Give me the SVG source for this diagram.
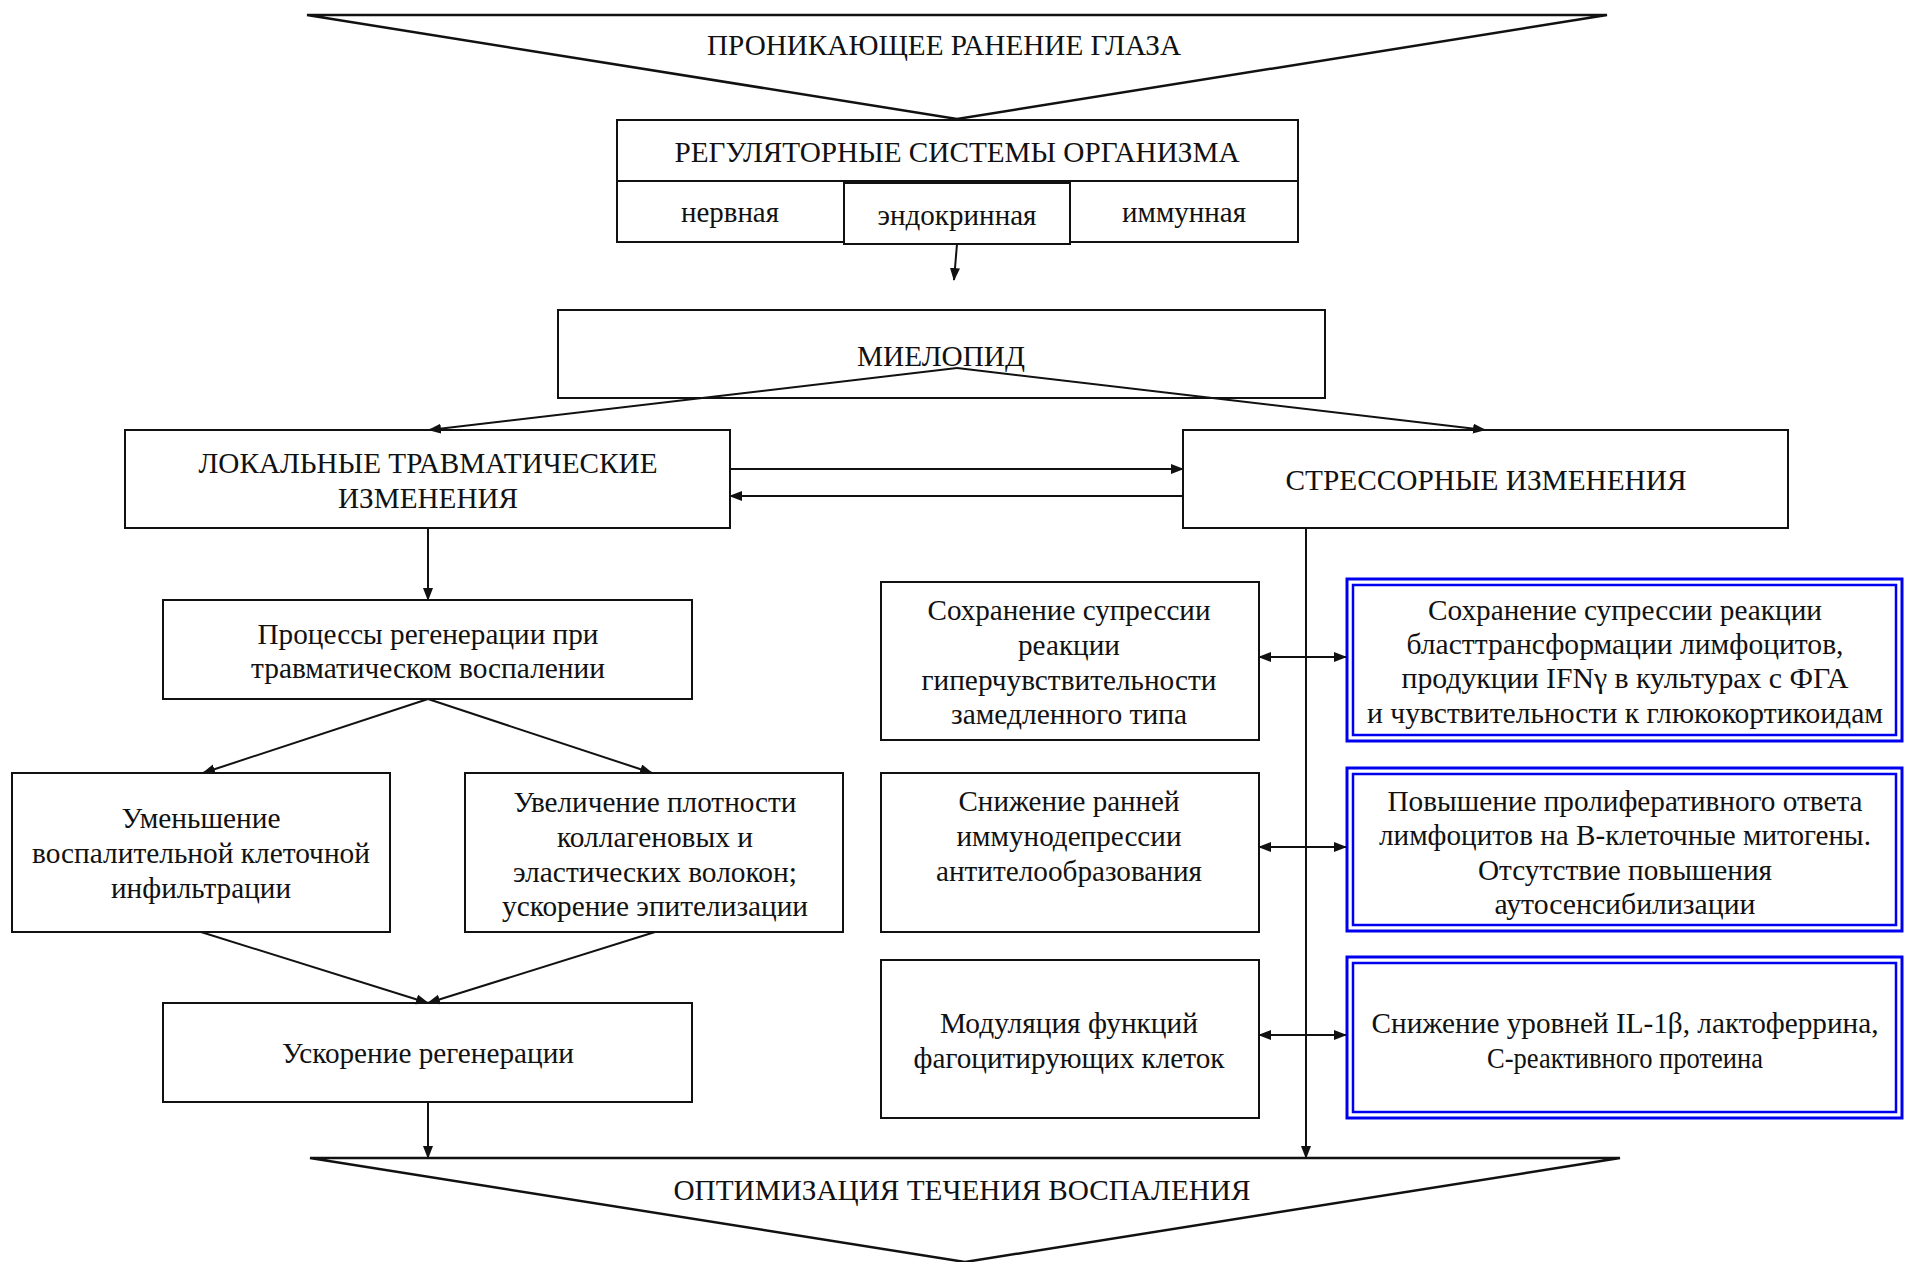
<svg xmlns="http://www.w3.org/2000/svg" width="1905" height="1262" viewBox="0 0 1905 1262">
<style>
.bx{fill:#fff;stroke:#111;stroke-width:2}
.bl{fill:none;stroke:#0000ee}
.tri{fill:#fff;stroke:#111;stroke-width:2.5}
.t{font-family:"Liberation Serif","Times New Roman",serif;font-size:30px;fill:#111;text-anchor:middle}
.c{fill:none;stroke:#111;stroke-width:2}
</style>
<defs>
<marker id="ah" markerUnits="userSpaceOnUse" markerWidth="14" markerHeight="12" refX="12" refY="5" orient="auto">
<path d="M0,0 L13,5 L0,10 z" fill="#111"/>
</marker>
<marker id="as" markerUnits="userSpaceOnUse" markerWidth="14" markerHeight="12" refX="1" refY="5" orient="auto">
<path d="M13,0 L0,5 L13,10 z" fill="#111"/>
</marker>
</defs>

<g id="top">
<polygon class="tri" points="307,15 1607,15 957,119"/>
<text class="t" x="944" y="55" textLength="474" lengthAdjust="spacingAndGlyphs">ПРОНИКАЮЩЕЕ РАНЕНИЕ ГЛАЗА</text>
</g>

<g id="reg">
<rect class="bx" x="617" y="120" width="681" height="61"/>
<text class="t" x="957" y="162" textLength="565" lengthAdjust="spacingAndGlyphs">РЕГУЛЯТОРНЫЕ СИСТЕМЫ ОРГАНИЗМА</text>
</g>
<g id="nerv">
<rect class="bx" x="617" y="181" width="227" height="61"/>
<text class="t" x="730" y="222" textLength="98" lengthAdjust="spacingAndGlyphs">нервная</text>
</g>
<g id="endo">
<rect class="bx" x="844" y="183" width="226" height="61"/>
<text class="t" x="957" y="225" textLength="159" lengthAdjust="spacingAndGlyphs">эндокринная</text>
</g>
<g id="imm">
<rect class="bx" x="1070" y="181" width="228" height="61"/>
<text class="t" x="1184" y="222" textLength="124" lengthAdjust="spacingAndGlyphs">иммунная</text>
</g>

<g id="mielopid">
<rect class="bx" x="558" y="310" width="767" height="88"/>
<text class="t" x="941" y="366" textLength="168" lengthAdjust="spacingAndGlyphs">МИЕЛОПИД</text>
</g>

<g id="local">
<rect class="bx" x="125" y="430" width="605" height="98"/>
<text class="t" x="428" y="473" textLength="459" lengthAdjust="spacingAndGlyphs">ЛОКАЛЬНЫЕ ТРАВМАТИЧЕСКИЕ</text>
<text class="t" x="428" y="508" textLength="180" lengthAdjust="spacingAndGlyphs">ИЗМЕНЕНИЯ</text>
</g>

<g id="stress">
<rect class="bx" x="1183" y="430" width="605" height="98"/>
<text class="t" x="1486" y="490" textLength="401" lengthAdjust="spacingAndGlyphs">СТРЕССОРНЫЕ ИЗМЕНЕНИЯ</text>
</g>

<g id="proc">
<rect class="bx" x="163" y="600" width="529" height="99"/>
<text class="t" x="428" y="644" textLength="341" lengthAdjust="spacingAndGlyphs">Процессы регенерации при</text>
<text class="t" x="428" y="678" textLength="354" lengthAdjust="spacingAndGlyphs">травматическом воспалении</text>
</g>

<g id="umen">
<rect class="bx" x="12" y="773" width="378" height="159"/>
<text class="t" x="201" y="828" textLength="159" lengthAdjust="spacingAndGlyphs">Уменьшение</text>
<text class="t" x="201" y="863" textLength="338" lengthAdjust="spacingAndGlyphs">воспалительной клеточной</text>
<text class="t" x="201" y="898" textLength="180" lengthAdjust="spacingAndGlyphs">инфильтрации</text>
</g>

<g id="uvel">
<rect class="bx" x="465" y="773" width="378" height="159"/>
<text class="t" x="655" y="812" textLength="283" lengthAdjust="spacingAndGlyphs">Увеличение плотности</text>
<text class="t" x="655" y="847" textLength="196" lengthAdjust="spacingAndGlyphs">коллагеновых и</text>
<text class="t" x="655" y="882" textLength="284" lengthAdjust="spacingAndGlyphs">эластических волокон;</text>
<text class="t" x="655" y="916" textLength="306" lengthAdjust="spacingAndGlyphs">ускорение эпителизации</text>
</g>

<g id="uskor">
<rect class="bx" x="163" y="1003" width="529" height="99"/>
<text class="t" x="428" y="1063" textLength="292" lengthAdjust="spacingAndGlyphs">Ускорение регенерации</text>
</g>

<g id="bottom">
<polygon class="tri" points="310,1158 1620,1158 965,1262"/>
<text class="t" x="962" y="1200" textLength="577" lengthAdjust="spacingAndGlyphs">ОПТИМИЗАЦИЯ ТЕЧЕНИЯ ВОСПАЛЕНИЯ</text>
</g>

<g id="l1">
<rect class="bx" x="881" y="582" width="378" height="158"/>
<text class="t" x="1069" y="620" textLength="283" lengthAdjust="spacingAndGlyphs">Сохранение супрессии</text>
<text class="t" x="1069" y="655" textLength="102" lengthAdjust="spacingAndGlyphs">реакции</text>
<text class="t" x="1069" y="690" textLength="295" lengthAdjust="spacingAndGlyphs">гиперчувствительности</text>
<text class="t" x="1069" y="724" textLength="236" lengthAdjust="spacingAndGlyphs">замедленного типа</text>
</g>
<g id="l2">
<rect class="bx" x="881" y="773" width="378" height="159"/>
<text class="t" x="1069" y="811" textLength="221" lengthAdjust="spacingAndGlyphs">Снижение ранней</text>
<text class="t" x="1069" y="846" textLength="225" lengthAdjust="spacingAndGlyphs">иммунодепрессии</text>
<text class="t" x="1069" y="881" textLength="266" lengthAdjust="spacingAndGlyphs">антителообразования</text>
</g>
<g id="l3">
<rect class="bx" x="881" y="960" width="378" height="158"/>
<text class="t" x="1069" y="1033" textLength="258" lengthAdjust="spacingAndGlyphs">Модуляция функций</text>
<text class="t" x="1069" y="1068" textLength="311" lengthAdjust="spacingAndGlyphs">фагоцитирующих клеток</text>
</g>

<g id="r1">
<rect class="bl" x="1347" y="579" width="555" height="162" stroke-width="3"/>
<rect class="bl" x="1353" y="585" width="543" height="150" stroke-width="2.5"/>
<text class="t" x="1625" y="620" textLength="394" lengthAdjust="spacingAndGlyphs">Сохранение супрессии реакции</text>
<text class="t" x="1625" y="654" textLength="437" lengthAdjust="spacingAndGlyphs">бласттрансформации лимфоцитов,</text>
<text class="t" x="1625" y="688" textLength="447" lengthAdjust="spacingAndGlyphs">продукции IFNγ в культурах с ФГА</text>
<text class="t" x="1625" y="723" textLength="516" lengthAdjust="spacingAndGlyphs">и чувствительности к глюкокортикоидам</text>
</g>
<g id="r2">
<rect class="bl" x="1347" y="768" width="555" height="163" stroke-width="3"/>
<rect class="bl" x="1353" y="774" width="543" height="151" stroke-width="2.5"/>
<text class="t" x="1625" y="811" textLength="475" lengthAdjust="spacingAndGlyphs">Повышение пролиферативного ответа</text>
<text class="t" x="1625" y="845" textLength="492" lengthAdjust="spacingAndGlyphs">лимфоцитов на В-клеточные митогены.</text>
<text class="t" x="1625" y="880" textLength="294" lengthAdjust="spacingAndGlyphs">Отсутствие повышения</text>
<text class="t" x="1625" y="914" textLength="261" lengthAdjust="spacingAndGlyphs">аутосенсибилизации</text>
</g>
<g id="r3">
<rect class="bl" x="1347" y="957" width="555" height="161" stroke-width="3"/>
<rect class="bl" x="1353" y="963" width="543" height="149" stroke-width="2.5"/>
<text class="t" x="1625" y="1033" textLength="507" lengthAdjust="spacingAndGlyphs">Снижение уровней IL-1β, лактоферрина,</text>
<text class="t" x="1625" y="1068" textLength="276" lengthAdjust="spacingAndGlyphs">С-реактивного протеина</text>
</g>

<g id="connectors">
<line class="c" x1="957" y1="244" x2="954" y2="280" marker-end="url(#ah)"/>
<line class="c" x1="957" y1="368" x2="429" y2="430" marker-end="url(#ah)"/>
<line class="c" x1="957" y1="368" x2="1485" y2="430" marker-end="url(#ah)"/>
<line class="c" x1="730" y1="469" x2="1183" y2="469" marker-end="url(#ah)"/>
<line class="c" x1="1183" y1="496" x2="730" y2="496" marker-end="url(#ah)"/>
<line class="c" x1="428" y1="528" x2="428" y2="600" marker-end="url(#ah)"/>
<line class="c" x1="428" y1="699" x2="203" y2="773" marker-end="url(#ah)"/>
<line class="c" x1="428" y1="699" x2="652" y2="773" marker-end="url(#ah)"/>
<line class="c" x1="201" y1="932" x2="428" y2="1003" marker-end="url(#ah)"/>
<line class="c" x1="655" y1="932" x2="428" y2="1003" marker-end="url(#ah)"/>
<line class="c" x1="428" y1="1102" x2="428" y2="1158" marker-end="url(#ah)"/>
<line class="c" x1="1306" y1="528" x2="1306" y2="1158" marker-end="url(#ah)"/>
<line class="c" x1="1259" y1="657" x2="1346" y2="657" marker-start="url(#as)" marker-end="url(#ah)"/>
<line class="c" x1="1259" y1="847" x2="1346" y2="847" marker-start="url(#as)" marker-end="url(#ah)"/>
<line class="c" x1="1259" y1="1035" x2="1346" y2="1035" marker-start="url(#as)" marker-end="url(#ah)"/>
</g>
</svg>
